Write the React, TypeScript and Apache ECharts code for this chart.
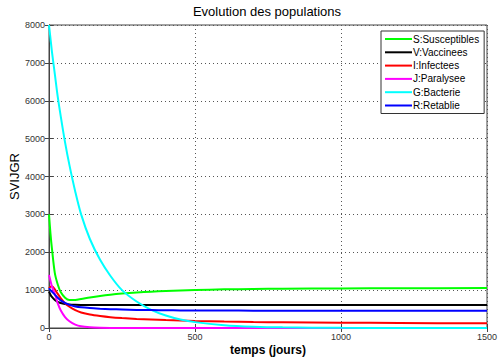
import React, { useEffect, useRef } from "react";
import * as echarts from "echarts";

const times = [0, 5, 10, 20, 30, 40, 55, 70, 90, 110, 140, 175, 210, 250, 300, 350, 400, 450, 500, 600, 700, 800, 1000, 1200, 1500];
const susceptibles = [3000, 2500, 2100, 1450, 1150, 950, 800, 740, 742, 765, 805, 845, 878, 908, 938, 960, 978, 993, 1005, 1020, 1030, 1036, 1045, 1050, 1055];
const vaccinees = [960, 880, 820, 740, 690, 660, 635, 620, 612, 608, 606, 605, 605, 605, 605, 605, 605, 605, 605, 605, 605, 605, 605, 605, 605];
const infectees = [1050, 1090, 1100, 1020, 900, 790, 650, 560, 470, 410, 355, 315, 285, 262, 240, 225, 210, 197, 186, 170, 158, 150, 140, 132, 125];
const paralysee = [1400, 1250, 1100, 900, 650, 470, 290, 180, 90, 45, 20, 8, 3, 1, 0, 0, 0, 0, 0, 0, 0, 0, 0, 0, 0];
const bacterie = [8000, 7650, 7300, 6700, 6100, 5600, 4900, 4300, 3600, 3000, 2350, 1800, 1380, 1000, 700, 480, 330, 225, 155, 75, 35, 17, 4, 1, 0];
const retablie = [1050, 1000, 960, 880, 800, 730, 660, 610, 570, 545, 525, 510, 498, 488, 478, 472, 468, 465, 462, 460, 458, 457, 456, 456, 456];

const seriesNames = ["S:Susceptibles", "V:Vaccinees", "I:Infectees", "J:Paralysee", "G:Bacterie", "R:Retablie"];
const seriesValues = [susceptibles, vaccinees, infectees, paralysee, bacterie, retablie];
const seriesColors = ["#00ff00", "#000000", "#ff0000", "#ff00ff", "#00ffff", "#0000ff"];

export default function App() {
  const ref = useRef<HTMLDivElement>(null);
  useEffect(() => {
    if (!ref.current) return;
    const chart = echarts.init(ref.current, null, { renderer: "svg" });
    const font = "Arial, 'Liberation Sans', sans-serif";
    const labelStyle = { color: "#333", fontSize: 9, fontFamily: font, formatter: (v: number) => String(v) };
    const splitLine = { show: true, lineStyle: { type: [1, 3] as any, color: "#555", width: 1 } };
    chart.setOption({
      animation: false,
      backgroundColor: "#fff",
      title: {
        text: "Evolution des populations",
        left: 267,
        textAlign: "center",
        top: 5,
        padding: 0,
        textStyle: { fontSize: 13, fontWeight: "normal", color: "#000", fontFamily: font },
      },
      grid: {
        left: 49, right: 11, top: 25, bottom: 30,
        outerBoundsMode: "none",
        containLabel: false,
        show: true, borderColor: "#444", borderWidth: 1, backgroundColor: "#fff",
      },
      legend: {
        orient: "vertical",
        left: 381,
        top: 31,
        width: 102,
        padding: [2, 5, 2, 4],
        backgroundColor: "#fff",
        borderColor: "#333",
        borderWidth: 1,
        borderRadius: 0,
        icon: "rect",
        itemWidth: 27,
        itemHeight: 2,
        itemGap: 1.3,
        data: seriesNames,
        textStyle: { fontSize: 10, fontFamily: font, color: "#000", lineHeight: 12, padding: [0, 0, 0, -4] },
      },
      xAxis: [
        {
          type: "value",
          min: 0,
          max: 1500,
          interval: 500,
          name: "temps (jours)",
          nameLocation: "middle",
          nameGap: 16,
          nameMoveOverlap: false,
          nameTextStyle: { fontSize: 12, fontWeight: "bold", color: "#000", fontFamily: font },
          axisLine: { show: true, lineStyle: { color: "#444" } },
          axisTick: { show: true, inside: true, length: 4, lineStyle: { color: "#444" } },
          axisLabel: { ...labelStyle, margin: 4 },
          splitLine,
        },
        {
          type: "value",
          position: "top",
          min: 0,
          max: 1500,
          interval: 500,
          axisLine: { show: true, lineStyle: { color: "#444" } },
          axisTick: { show: true, inside: true, length: 4, lineStyle: { color: "#444" } },
          axisLabel: { show: false },
          splitLine: { show: false },
        },
      ],
      yAxis: [
        {
          type: "value",
          min: 0,
          max: 8000,
          interval: 1000,
          name: "SVIJGR",
          nameLocation: "middle",
          nameGap: 28,
          nameMoveOverlap: false,
          nameTextStyle: { fontSize: 13, color: "#000", fontFamily: font },
          axisLine: { show: true, lineStyle: { color: "#444" } },
          axisTick: { show: true, inside: true, length: 4, lineStyle: { color: "#444" } },
          axisLabel: { ...labelStyle, margin: 4 },
          splitLine,
        },
        {
          type: "value",
          position: "right",
          min: 0,
          max: 8000,
          interval: 1000,
          axisLine: { show: true, lineStyle: { color: "#444" } },
          axisTick: { show: true, inside: true, length: 4, lineStyle: { color: "#444" } },
          axisLabel: { show: false },
          splitLine: { show: false },
        },
      ],
      series: seriesNames.map((name, i) => ({
        name,
        type: "line",
        xAxisIndex: 0,
        yAxisIndex: 0,
        showSymbol: false,
        smooth: 0.3,
        color: seriesColors[i],
        lineStyle: { width: 2, color: seriesColors[i] },
        data: times.map((t, j) => [t, seriesValues[i][j]]),
      })),
    });
    return () => chart.dispose();
  }, []);
  return <div ref={ref} style={{ position: "fixed", left: 0, top: 0, width: 498, height: 358 }} />;
}
